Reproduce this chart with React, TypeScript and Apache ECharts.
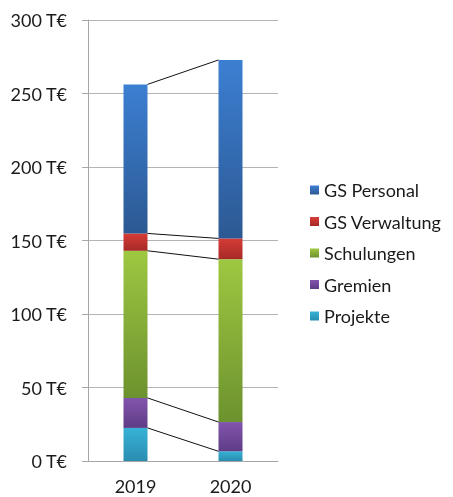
import React, { useEffect, useRef } from "react";
import * as echarts from "echarts";

const categories = ["2019", "2020"];
const seriesNames = ["Projekte", "Gremien", "Schulungen", "GS Verwaltung", "GS Personal"];
const projekte = [22.5, 6.6];
const gremien = [20.4, 19.9];
const schulungen = [100.1, 110.8];
const verwaltung = [11.8, 14.1];
const personal = [101.4, 121.4];
const yTicks = [0, 50, 100, 150, 200, 250, 300];

const colorsTop = ["#36b2d6", "#8255ad", "#9ec741", "#d63c37", "#3c7fd2"];
const colorsBottom = ["#2a8db0", "#5e3c86", "#6c922e", "#a62a27", "#2c5993"];

export default function App() {
  const ref = useRef<HTMLDivElement>(null);
  useEffect(() => {
    if (!ref.current) return;
    const chart = echarts.init(ref.current, null, { renderer: "svg" });
    const values = [projekte, gremien, schulungen, verwaltung, personal];
    const tops: number[][] = [];
    const acc = [0, 0];
    values.forEach((v) => {
      acc[0] += v[0];
      acc[1] += v[1];
      tops.push([acc[0], acc[1]]);
    });
    const barW = 24;
    const font = "Lato, 'Open Sans', sans-serif";
    const bars = values.map((v, i) => ({
      name: seriesNames[i],
      type: "bar",
      stack: "total",
      barWidth: barW,
      data: v,
      itemStyle: {
        color: new echarts.graphic.LinearGradient(0, 0, 0, 1, [
          { offset: 0, color: colorsTop[i] },
          { offset: 1, color: colorsBottom[i] },
        ]),
      },
    }));
    chart.setOption({
      animation: false,
      grid: { left: 88, right: 175, top: 20, bottom: 36 },
      legend: {
        orient: "vertical",
        left: 305,
        top: 176,
        itemWidth: 9,
        itemHeight: 9,
        itemGap: 13.5,
        icon: "rect",
        data: [...seriesNames].reverse(),
        textStyle: { fontFamily: font, fontSize: 18, color: "#1a1a1a", lineHeight: 18 },
      },
      xAxis: {
        type: "category",
        data: categories,
        axisLine: { lineStyle: { color: "#a6a6a6" } },
        axisTick: { show: false },
        axisLabel: { fontFamily: font, fontSize: 18, color: "#1a1a1a", margin: 16 },
      },
      yAxis: {
        type: "value",
        min: yTicks[0],
        max: yTicks[yTicks.length - 1],
        interval: 50,
        axisLine: { show: true, lineStyle: { color: "#a6a6a6" } },
        axisTick: { show: true, length: 6, lineStyle: { color: "#a6a6a6" } },
        splitLine: { lineStyle: { color: "#b3b3b3" } },
        axisLabel: {
          fontFamily: font,
          fontSize: 18,
          color: "#1a1a1a",
          margin: 21,
          formatter: (v: number) => `${v} T€`,
        },
      },
      series: [
        ...bars,
        {
          type: "custom",
          silent: true,
          z: 5,
          data: tops,
          encode: { x: 0, y: 0 },
          renderItem: (params: any, api: any) => {
            const a = api.value(0);
            const b = api.value(1);
            const p1 = api.coord([0, a]);
            const p2 = api.coord([1, b]);
            return {
              type: "line",
              shape: { x1: p1[0] + barW / 2, y1: p1[1], x2: p2[0] - barW / 2, y2: p2[1] },
              style: { stroke: "#111", lineWidth: 1 },
            };
          },
        },
      ],
    } as any);
    return () => chart.dispose();
  }, []);
  return (
    <div
      ref={ref}
      style={{ position: "fixed", left: 0, top: 0, width: 453, height: 497 }}
    />
  );
}
